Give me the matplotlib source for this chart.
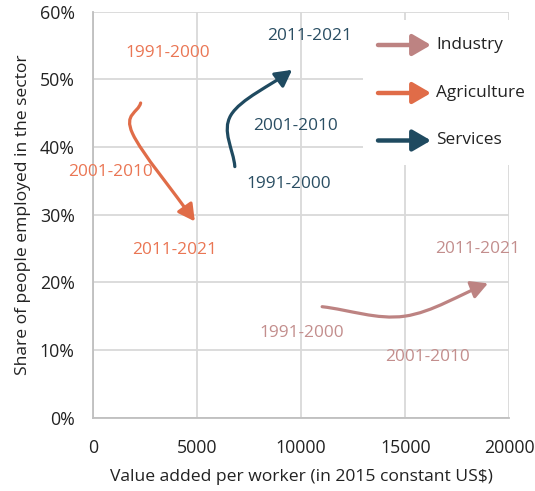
import numpy as np
import matplotlib.pyplot as plt
from matplotlib.path import Path
from matplotlib.patches import FancyArrowPatch, Rectangle

plt.rcParams['font.family'] = ['Open Sans', 'DejaVu Sans']

periods = ['1991-2000', '2001-2010', '2011-2021']

# value added per worker (2015 US$) and share employed, per decade
agri_x = [2300, 1910, 4900]
agri_y = [0.465, 0.420, 0.290]
serv_x = [6820, 6630, 9570]
serv_y = [0.371, 0.447, 0.514]
ind_x = [11010, 14970, 18970]
ind_y = [0.164, 0.150, 0.1985]

# where the period labels sit
agri_lx = [3610, 830, 3940]
agri_ly = [0.539, 0.363, 0.248]
serv_lx = [9420, 9710, 10430]
serv_ly = [0.345, 0.431, 0.564]
ind_lx = [10040, 16080, 18480]
ind_ly = [0.125, 0.089, 0.249]

c_ind, c_agri, c_serv = '#bd8382', '#e06c48', '#1f4a60'
t_ind, t_agri, t_serv = '#c38e8d', '#ea7654', '#2a4e63'


def smooth_path(xs, ys):
    # cubic bezier through the points, tangents as in a cardinal spline
    p = np.column_stack([xs, ys]).astype(float)
    n = len(p)
    tang = np.zeros_like(p)
    tang[0] = p[1] - p[0]
    tang[-1] = p[-1] - p[-2]
    for i in range(1, n - 1):
        tang[i] = (p[i + 1] - p[i - 1]) / 2
    verts = [p[0]]
    codes = [Path.MOVETO]
    for i in range(n - 1):
        verts += [p[i] + tang[i] / 3, p[i + 1] - tang[i + 1] / 3, p[i + 1]]
        codes += [Path.CURVE4] * 3
    return Path(verts, codes)


fig = plt.figure(figsize=(5.35, 4.91), dpi=100)
ax = fig.add_axes([0.1733, 0.1493, 0.779, 0.827])
ax.set_xlim(0, 20000)
ax.set_ylim(0, 0.6)
ax.set_xticks([0, 5000, 10000, 15000, 20000])
ax.set_yticks(np.arange(0, 0.61, 0.1))
ax.set_yticklabels([f'{int(round(v * 100))}%' for v in np.arange(0, 0.61, 0.1)])
ax.grid(True, color='#d9d9d9', lw=1.3)
ax.set_axisbelow(True)
for s in ['top', 'right']:
    ax.spines[s].set_visible(False)
for s in ['left', 'bottom']:
    ax.spines[s].set_color('#bfbfbf')
    ax.spines[s].set_linewidth(1.3)
ax.tick_params(length=0, labelsize=12.8, colors='#222222')
ax.tick_params(axis='y', pad=13)
ax.tick_params(axis='x', pad=15)
ax.set_xlabel('Value added per worker (in 2015 constant US\\$)', fontsize=12.6,
              color='#222222', labelpad=9)
ax.set_ylabel('Share of people employed in the sector', fontsize=12.6,
              color='#222222', labelpad=6)

style = '-|>,head_length=0.5,head_width=0.27'
for xs, ys, lxs, lys, c, tc in [(ind_x, ind_y, ind_lx, ind_ly, c_ind, t_ind),
                                 (agri_x, agri_y, agri_lx, agri_ly, c_agri, t_agri),
                                 (serv_x, serv_y, serv_lx, serv_ly, c_serv, t_serv)]:
    arr = FancyArrowPatch(path=smooth_path(xs, ys), arrowstyle=style,
                          mutation_scale=20, color=c, lw=2.3, zorder=3)
    ax.add_patch(arr)
    for lab, lx, ly in zip(periods, lxs, lys):
        ax.text(lx, ly, lab, color=tc, fontsize=12.4, ha='center', va='center')

# legend with arrow keys on a white panel
ax.add_patch(Rectangle((363, 491 - 165), 160, 145, transform=None,
                       facecolor='white', edgecolor='none', zorder=2))
for name, c, ypix in [('Industry', c_ind, 45), ('Agriculture', c_agri, 93),
                      ('Services', c_serv, 140.5)]:
    yf = 1 - ypix / 491
    leg = FancyArrowPatch((378 / 535, yf), (431 / 535, yf), transform=fig.transFigure,
                          arrowstyle='-|>,head_length=0.55,head_width=0.32',
                          mutation_scale=20, color=c, lw=3.2, shrinkA=0, shrinkB=0,
                          zorder=4)
    fig.patches.append(leg)
    fig.text(436 / 535, yf, name, fontsize=12.4, color='#222222', va='center', ha='left')

fig.savefig('out.png', dpi=100)
